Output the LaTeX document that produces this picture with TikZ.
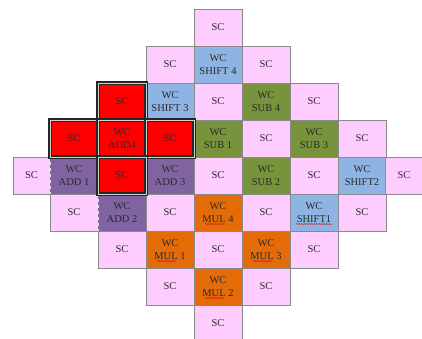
\documentclass[tikz,border=0pt]{standalone}
\usepackage{fontspec}
\setmainfont{Liberation Serif}
\usetikzlibrary{calc,decorations.pathmorphing}
\definecolor{scpink}{HTML}{FFCCFF}
\definecolor{shiftblue}{HTML}{8DB4E2}
\definecolor{subgreen}{HTML}{77933C}
\definecolor{mulorange}{HTML}{E36C09}
\definecolor{addpurple}{HTML}{8064A2}
\definecolor{cellline}{HTML}{8A8A8A}
\definecolor{celltext}{HTML}{2B2B2B}
\tikzset{
  cell/.style={minimum width=48pt, minimum height=37pt, inner sep=0pt, outer sep=0pt,
    draw=cellline, line width=0.6pt, align=center, text=celltext,
    font=\fontsize{10.5}{13.5}\selectfont},
  sccell/.style={cell, fill=scpink},
  shiftcell/.style={cell, fill=shiftblue},
  subcell/.style={cell, fill=subgreen},
  mulcell/.style={cell, fill=mulorange},
  addcell/.style={cell, fill=addpurple, draw=white!75!gray, dashed},
  redcell/.style={cell, fill=red, draw=black!85, line width=4pt,
    postaction={draw=white!65!gray, line width=0.8pt}},
  edgecell/.style={minimum width=37pt},
  squiggle/.style={red!80!black, line width=0.4pt,
    decorate, decoration={snake, segment length=2.5pt, amplitude=0.5pt}}
}
\begin{document}
\begin{tikzpicture}[x=1pt,y=-1pt]
  \useasboundingbox[fill=white] (0,0) rectangle (422,338);
  % row 0
  \node[sccell] (sc40) at (218,27.5) {SC};
  % row 1
  \node[sccell] (sc31) at (170,64.5) {SC};
  \node[shiftcell] (shift4) at (218,64.5) {WC\\SHIFT 4};
  \node[sccell] (sc51) at (266,64.5) {SC};
  % row 2
  \node[shiftcell] (shift3) at (170,101.5) {WC\\SHIFT 3};
  \node[sccell] (sc42) at (218,101.5) {SC};
  \node[subcell] (sub4) at (266,101.5) {WC\\SUB 4};
  \node[sccell] (sc62) at (314,101.5) {SC};
  % row 3
  \node[subcell] (sub1) at (218,138.5) {WC\\SUB 1};
  \node[sccell] (sc53) at (266,138.5) {SC};
  \node[subcell] (sub3) at (314,138.5) {WC\\SUB 3};
  \node[sccell] (sc73) at (362,138.5) {SC};
  % row 4
  \node[sccell, edgecell] (sc04) at (31.5,175.5) {SC};
  \node[addcell] (add1) at (74,175.5) {WC\\ADD 1};
  \node[addcell] (add3) at (170,175.5) {WC\\ADD 3};
  \node[sccell] (sc44) at (218,175.5) {SC};
  \node[subcell] (sub2) at (266,175.5) {WC\\SUB 2};
  \node[sccell] (sc64) at (314,175.5) {SC};
  \node[shiftcell] (shift2) at (362,175.5) {WC\\SHIFT2};
  \node[sccell, edgecell] (sc84) at (404,175.5) {SC};
  % row 5
  \node[sccell] (sc15) at (74,212.5) {SC};
  \node[addcell] (add2) at (122,212.5) {WC\\ADD 2};
  \node[sccell] (sc35) at (170,212.5) {SC};
  \node[mulcell] (mul4) at (218,212.5) {WC\\MUL 4};
  \node[sccell] (sc55) at (266,212.5) {SC};
  \node[shiftcell] (shift1) at (314,212.5) {WC\\SHIFT1};
  \node[sccell] (sc75) at (362,212.5) {SC};
  % row 6
  \node[sccell] (sc26) at (122,249.5) {SC};
  \node[mulcell] (mul1) at (170,249.5) {WC\\MUL 1};
  \node[sccell] (sc46) at (218,249.5) {SC};
  \node[mulcell] (mul3) at (266,249.5) {WC\\MUL 3};
  \node[sccell] (sc66) at (314,249.5) {SC};
  % row 7
  \node[sccell] (sc37) at (170,286.5) {SC};
  \node[mulcell] (mul2) at (218,286.5) {WC\\MUL 2};
  \node[sccell] (sc57) at (266,286.5) {SC};
  % row 8
  \node[sccell] (sc48) at (218,323.5) {SC};
  % red cross round ADD4
  \node[redcell] (red2) at (122,101.5) {SC};
  \node[redcell] (red1) at (74,138.5) {SC};
  \node[redcell] (add4) at (122,138.5) {WC\\ADD4};
  \node[redcell] (red3) at (170,138.5) {SC};
  \node[redcell] (red4) at (122,175.5) {SC};
  % spelling marks
  \foreach \m in {mul1,mul2,mul3,mul4}
    \draw[squiggle] ($(\m.center)+(-13,11.5)$) -- ($(\m.center)+(7,11.5)$);
  \draw[squiggle] ($(shift1.center)+(-18,11.5)$) -- ($(shift1.center)+(18,11.5)$);
\end{tikzpicture}
\end{document}
